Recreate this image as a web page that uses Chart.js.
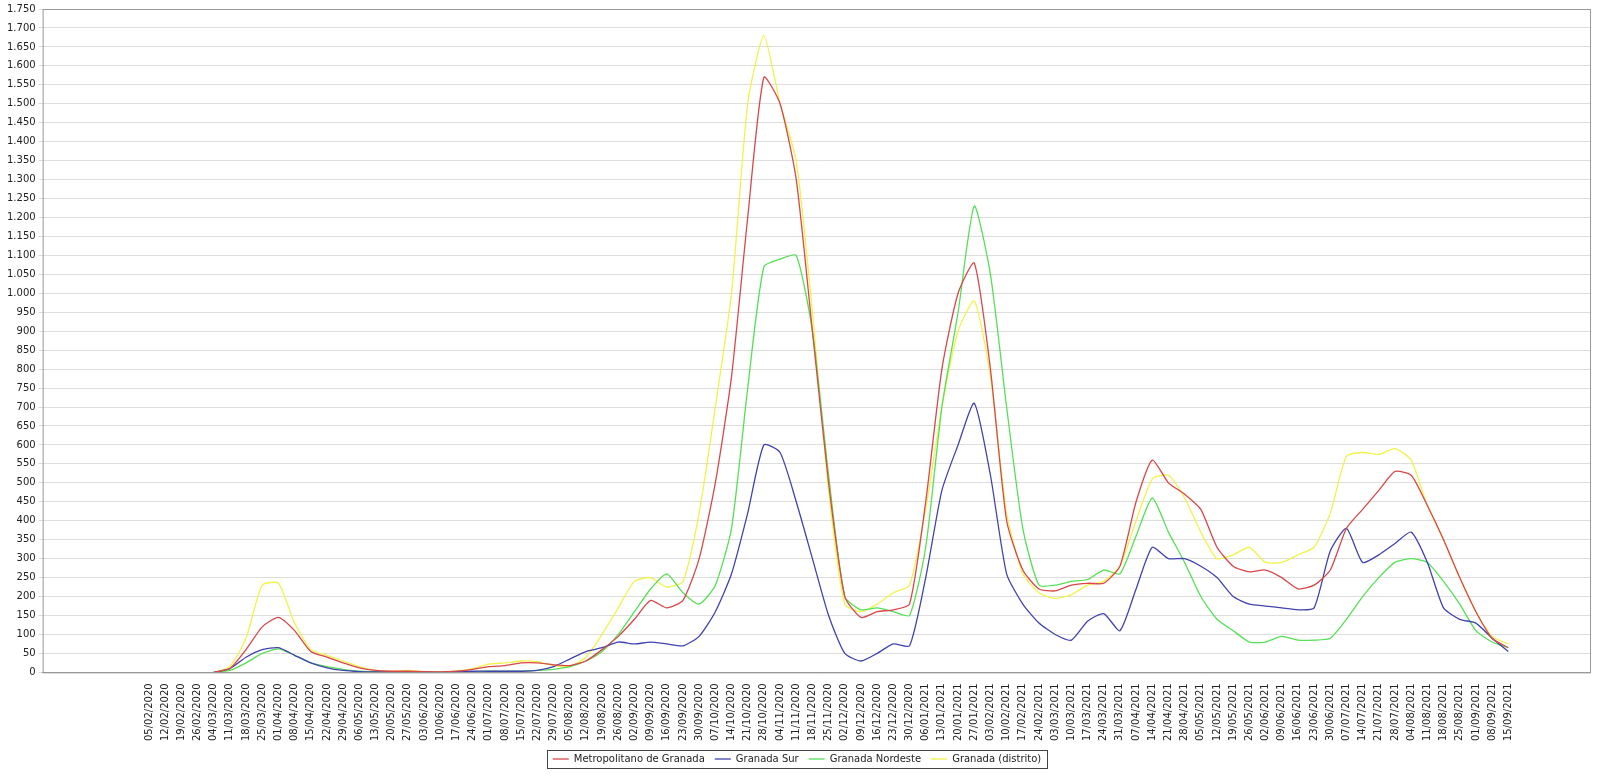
<!DOCTYPE html>
<html><head><meta charset="utf-8">
<script src="https://cdn.jsdelivr.net/npm/chart.js@4/dist/chart.umd.min.js"></script>
<style>html,body{margin:0;padding:0;background:#fff}#w{width:1600px;height:782px}</style>
</head><body><div id="w"><canvas id="c"></canvas></div>
<script>
const labels = ["05/02/2020","12/02/2020","19/02/2020","26/02/2020","04/03/2020","11/03/2020","18/03/2020","25/03/2020","01/04/2020","08/04/2020","15/04/2020","22/04/2020","29/04/2020","06/05/2020","13/05/2020","20/05/2020","27/05/2020","03/06/2020","10/06/2020","17/06/2020","24/06/2020","01/07/2020","08/07/2020","15/07/2020","22/07/2020","29/07/2020","05/08/2020","12/08/2020","19/08/2020","26/08/2020","02/09/2020","09/09/2020","16/09/2020","23/09/2020","30/09/2020","07/10/2020","14/10/2020","21/10/2020","28/10/2020","04/11/2020","11/11/2020","18/11/2020","25/11/2020","02/12/2020","09/12/2020","16/12/2020","23/12/2020","30/12/2020","06/01/2021","13/01/2021","20/01/2021","27/01/2021","03/02/2021","10/02/2021","17/02/2021","24/02/2021","03/03/2021","10/03/2021","17/03/2021","24/03/2021","31/03/2021","07/04/2021","14/04/2021","21/04/2021","28/04/2021","05/05/2021","12/05/2021","19/05/2021","26/05/2021","02/06/2021","09/06/2021","16/06/2021","23/06/2021","30/06/2021","07/07/2021","14/07/2021","21/07/2021","28/07/2021","04/08/2021","11/08/2021","18/08/2021","25/08/2021","01/09/2021","08/09/2021","15/09/2021"];
const metropolitano = [null,null,null,null,0,10,60,120,145,110,55,40,25,12,5,3,3,2,1,3,8,15,18,25,25,20,18,30,60,95,140,190,170,190,300,500,780,1200,1570,1500,1300,900,500,200,145,160,165,180,450,800,1000,1080,800,400,270,220,215,230,235,235,280,450,560,500,470,430,330,280,265,270,250,220,230,270,380,430,480,530,520,440,350,250,160,90,65];
const granadaSur = [null,null,null,null,0,10,40,60,65,45,25,12,5,2,1,1,1,0,0,2,3,3,3,3,5,15,35,55,65,80,75,80,75,70,95,160,260,420,600,580,450,300,150,50,30,50,75,70,250,480,600,710,520,260,180,130,100,85,135,155,110,220,330,300,300,280,250,200,180,175,170,165,170,320,380,290,310,340,370,290,170,140,130,90,55];
const granadaNordeste = [null,null,null,null,0,5,25,50,62,45,25,15,8,3,2,1,1,0,0,1,2,3,3,3,5,8,15,30,55,100,160,220,260,210,180,230,380,750,1070,1090,1100,900,520,200,165,170,160,150,330,700,950,1230,1050,700,380,230,230,240,245,270,260,360,460,370,290,200,140,110,80,80,95,85,85,90,140,200,250,290,300,290,240,180,110,80,65];
const granadaDistrito = [null,null,null,null,0,15,90,230,235,130,60,45,30,15,5,3,5,2,1,3,10,22,25,30,28,18,15,40,100,170,240,250,225,240,420,700,1000,1500,1680,1500,1350,950,480,180,160,180,210,230,430,700,900,980,780,420,260,210,195,205,230,240,280,400,510,520,460,370,300,310,330,290,290,310,330,420,570,580,575,590,560,440,350,250,160,95,75];
const seriesNames = ["Metropolitano de Granada","Granada Sur","Granada Nordeste","Granada (distrito)"];
const seriesColors = ["#d9474a","#4242b0","#55e055","#f2f24a"];
const pts = a => a.map((v,i)=>({x:i,y:v}));
const frame = {id:'frame',afterDraw(ch){const {ctx,chartArea:a}=ch;ctx.save();ctx.strokeStyle='#999';ctx.lineWidth=1;ctx.strokeRect(a.left+0.5,a.top+0.5,a.right-a.left,a.bottom-a.top);ctx.restore();}};
const legendBox={id:'lb',afterDraw(ch){const l=ch.legend;if(!l||!l.legendHitBoxes.length)return;const hb=l.legendHitBoxes;const ctx=ch.ctx;
 const x0=hb[0].left-6,x1=hb[hb.length-1].left+hb[hb.length-1].width+6,y0=hb[0].top-4,y1=hb[0].top+hb[0].height+4;
 ctx.save();ctx.strokeStyle='#444';ctx.lineWidth=1;ctx.strokeRect(Math.round(x0)+0.5,Math.round(y0)+0.5,Math.round(x1-x0),Math.round(y1-y0));ctx.restore();}};
new Chart(document.getElementById('c'),{
 type:'line',
 data:{datasets:[metropolitano,granadaSur,granadaNordeste,granadaDistrito].map((d,i)=>({label:seriesNames[i],data:pts(d),borderColor:seriesColors[i],backgroundColor:seriesColors[i],borderWidth:1.3,pointRadius:0,tension:0.2,spanGaps:false}))},
 options:{responsive:true,maintainAspectRatio:false,animation:false,
  layout:{padding:{left:4,right:10,top:8,bottom:8}},
  plugins:{legend:{position:'bottom',labels:{usePointStyle:true,pointStyle:'line',pointStyleWidth:16,boxHeight:10,padding:10,color:'#222',font:{family:'DejaVu Sans',size:10}}},tooltip:{enabled:false}},
  scales:{
   x:{type:'linear',min:-6.57,max:89.05,
    afterBuildTicks(s){s.ticks=labels.map((_,i)=>({value:i}));},
    ticks:{autoSkip:false,maxRotation:90,minRotation:90,color:'#222',font:{family:'DejaVu Sans',size:10},callback:v=>labels[v]},
    grid:{display:false},border:{color:'#999'}},
   y:{min:0,max:1750,ticks:{stepSize:50,autoSkip:false,color:'#222',font:{family:'DejaVu Sans',size:10},callback:v=>v.toLocaleString('de-DE')},
    grid:{color:'#ddd',borderDash:[3,3],tickLength:4},border:{display:false}}
  }},
 plugins:[frame,legendBox]
});
</script></body></html>
